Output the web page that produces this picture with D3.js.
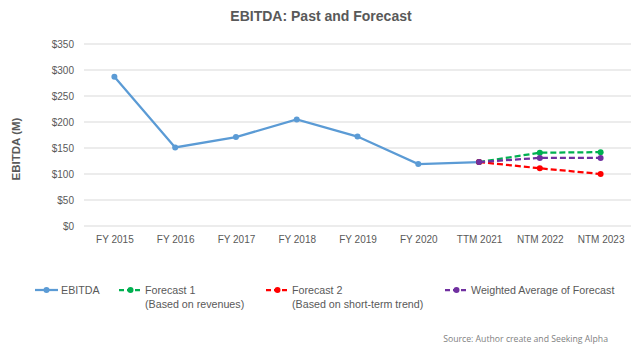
<!DOCTYPE html>
<html>
<head>
<meta charset="utf-8">
<script src="https://cdn.jsdelivr.net/npm/d3@7"></script>
<style>
body { margin: 0; background: #fff; }
text { font-family: "Liberation Sans", Arial, sans-serif; }
</style>
</head>
<body>
<script>
var w = 640;
var h = 351;

var categories = ["FY 2015", "FY 2016", "FY 2017", "FY 2018", "FY 2019", "FY 2020", "TTM 2021", "NTM 2022", "NTM 2023"];
var ebitda = [287, 151, 171, 205, 172, 119, 123];          // FY 2015 .. TTM 2021
var forecastCats = ["TTM 2021", "NTM 2022", "NTM 2023"];
var forecast1 = [123, 141, 142];
var forecast2 = [123, 111, 100];
var weighted = [123, 131, 131];
var yTicks = [0, 50, 100, 150, 200, 250, 300, 350];

var margin = {left: 84, right: 9, top: 44, bottom: 125};

var svg = d3.select("body")
    .append("svg")
    .attr("width", w)
    .attr("height", h);

var x = d3.scalePoint()
    .domain(categories)
    .range([margin.left, w - margin.right])
    .padding(0.5);

var y = d3.scaleLinear()
    .domain([0, 350])
    .range([226, 44]);

// gridlines
svg.append("g")
    .selectAll("line")
    .data(yTicks)
    .enter()
    .append("line")
    .attr("x1", margin.left)
    .attr("x2", w - margin.right)
    .attr("y1", function(d){ return y(d); })
    .attr("y2", function(d){ return y(d); })
    .attr("stroke", "#d9d9d9")
    .attr("stroke-width", 1);

// y axis labels
var yAxis = svg.append("g")
    .attr("transform", "translate(" + (margin.left - 7) + ",0)")
    .call(d3.axisLeft(y).tickValues(yTicks).tickSize(0).tickFormat(function(d){ return "$" + d; }));
yAxis.select(".domain").remove();
yAxis.selectAll("text")
    .attr("fill", "#595959")
    .style("font-size", "10px")
    .attr("dx", 0);

// x axis labels
var xAxis = svg.append("g")
    .attr("transform", "translate(0," + y(0) + ")")
    .call(d3.axisBottom(x).tickSize(0).tickPadding(10));
xAxis.select(".domain").remove();
xAxis.selectAll("text")
    .attr("fill", "#595959")
    .style("font-size", "10px");

// title
svg.append("text")
    .attr("x", 321)
    .attr("y", 21)
    .attr("text-anchor", "middle")
    .attr("fill", "#595959")
    .style("font-size", "14px")
    .style("font-weight", "bold")
    .text("EBITDA: Past and Forecast");

// y axis title
svg.append("text")
    .attr("transform", "translate(20,149) rotate(-90)")
    .attr("text-anchor", "middle")
    .attr("fill", "#595959")
    .style("font-size", "11.5px")
    .style("font-weight", "bold")
    .text("EBITDA (M)");

// EBITDA first so the forecast points sit on top at TTM 2021
var series = [
    {name: "EBITDA", cats: categories.slice(0, ebitda.length), values: ebitda, color: "#5b9bd5", dash: null},
    {name: "Forecast 1", cats: forecastCats, values: forecast1, color: "#00b050", dash: "6,3"},
    {name: "Forecast 2", cats: forecastCats, values: forecast2, color: "#ff0000", dash: "6,3"},
    {name: "Weighted Average of Forecast", cats: forecastCats, values: weighted, color: "#7030a0", dash: "6,3"}
];

var line = d3.line()
    .x(function(d){ return x(d.c); })
    .y(function(d){ return y(d.v); });

series.forEach(function(s){
    var pts = s.values.map(function(v, i){ return {c: s.cats[i], v: v}; });
    svg.append("path")
        .datum(pts)
        .attr("d", line)
        .attr("fill", "none")
        .attr("stroke", s.color)
        .attr("stroke-width", 2.25)
        .attr("stroke-dasharray", s.dash);
    svg.append("g")
        .selectAll("circle")
        .data(pts)
        .enter()
        .append("circle")
        .attr("cx", function(d){ return x(d.c); })
        .attr("cy", function(d){ return y(d.v); })
        .attr("r", 3)
        .attr("fill", s.color);
});

// legend
var legend = [
    {lines: ["EBITDA"], color: "#5b9bd5", dash: null, x: 35},
    {lines: ["Forecast 1", "(Based on revenues)"], color: "#00b050", dash: "5,3", x: 119},
    {lines: ["Forecast 2", "(Based on short-term trend)"], color: "#ff0000", dash: "5,3", x: 266},
    {lines: ["Weighted Average of Forecast"], color: "#7030a0", dash: "5,3", x: 445}
];

var lg = svg.selectAll("g.legend")
    .data(legend)
    .enter()
    .append("g")
    .attr("class", "legend")
    .attr("transform", function(d){ return "translate(" + d.x + ",290)"; });

lg.append("line")
    .attr("x1", 0)
    .attr("x2", 23)
    .attr("stroke", function(d){ return d.color; })
    .attr("stroke-width", 2.25)
    .attr("stroke-dasharray", function(d){ return d.dash; });

lg.append("circle")
    .attr("cx", 11.5)
    .attr("r", 3)
    .attr("fill", function(d){ return d.color; });

lg.append("text")
    .attr("y", 4)
    .attr("fill", "#595959")
    .style("font-size", "10.7px")
    .selectAll("tspan")
    .data(function(d){ return d.lines; })
    .enter()
    .append("tspan")
    .attr("x", 26)
    .attr("dy", function(d, i){ return i == 0 ? 0 : 14; })
    .text(function(d){ return d; });

// source
svg.append("text")
    .attr("x", 608)
    .attr("y", 342)
    .attr("text-anchor", "end")
    .attr("fill", "#7f7f7f")
    .style("font-family", "'Open Sans', sans-serif")
    .style("font-size", "8.7px")
    .text("Source: Author create and Seeking Alpha");
</script>
</body>
</html>
